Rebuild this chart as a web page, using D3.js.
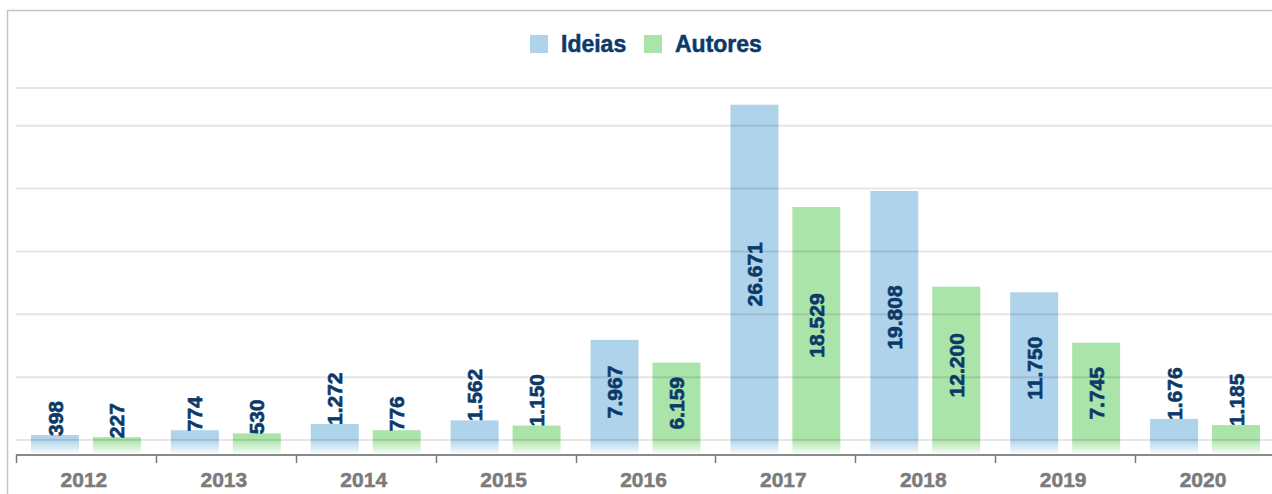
<!DOCTYPE html>
<html>
<head>
<meta charset="utf-8">
<script src="https://cdn.jsdelivr.net/npm/d3@7"></script>
<style>
  html, body { margin: 0; padding: 0; background: #fff; }
  svg { display: block; }
</style>
</head>
<body>
<svg id="chart" width="1272" height="494"></svg>
<script>
// Yearly counts of ideas and authors
const categories = ["2012", "2013", "2014", "2015", "2016", "2017", "2018", "2019", "2020"];
const seriesNames = ["Ideias", "Autores"];
const ideias  = [398, 774, 1272, 1562, 7967, 26671, 19808, 11750, 1676];
const autores = [227, 530, 776, 1150, 6159, 18529, 12200, 7745, 1185];
const seriesColors = ["#aed3ea", "#aae4a8"];

const W = 1272, H = 494;
const svg = d3.select("#chart");

const ptLocale = d3.formatLocale({ decimal: ",", thousands: ".", grouping: [3], currency: ["", ""] });
const fmt = ptLocale.format(",d");

const plot = { left: 16, right: 1275, top: 88, zero: 440, axis: 455 };

const x = d3.scaleBand().domain(categories).range([plot.left, plot.right]).padding(0);
const xs = d3.scaleBand().domain(seriesNames).range([0, x.bandwidth()])
  .paddingInner(0.2258).paddingOuter(0.242);
const y = d3.scaleLinear().domain([0, 28000]).range([plot.zero, plot.top]);

const rows = categories.map((c, i) => ({ cat: c, values: [ideias[i], autores[i]] }));

// outer frame
svg.append("path")
  .attr("d", `M7.5,${H} V10.5 H${W}`)
  .attr("fill", "none").attr("stroke", "#c4c4c4").attr("stroke-width", 1.5);

// fading gradients for the strip under the zero line
const defs = svg.append("defs");
seriesColors.forEach((c, i) => {
  const g = defs.append("linearGradient").attr("id", "fade" + i)
    .attr("x1", 0).attr("y1", 0).attr("x2", 0).attr("y2", 1);
  g.append("stop").attr("offset", "0%").attr("stop-color", c).attr("stop-opacity", 0.95);
  g.append("stop").attr("offset", "100%").attr("stop-color", c).attr("stop-opacity", 0.15);
});

// bars
const groups = svg.append("g").selectAll("g").data(rows).join("g")
  .attr("transform", d => `translate(${x(d.cat)},0)`);

groups.selectAll("rect.bar").data(d => d.values.map((v, i) => ({ v, i })))
  .join("rect").attr("class", "bar")
  .attr("x", d => xs(seriesNames[d.i]))
  .attr("width", xs.bandwidth())
  .attr("y", d => y(d.v))
  .attr("height", d => y(0) - y(d.v))
  .attr("fill", d => seriesColors[d.i]);

groups.selectAll("rect.fade").data(d => d.values.map((v, i) => ({ v, i })))
  .join("rect").attr("class", "fade")
  .attr("x", d => xs(seriesNames[d.i]))
  .attr("width", xs.bandwidth())
  .attr("y", y(0))
  .attr("height", plot.axis - 2 - y(0))
  .attr("fill", d => `url(#fade${d.i})`);

// grid lines, drawn over the bars
const gridVals = y.ticks(6).concat([y.domain()[1]]);
svg.append("g").selectAll("line").data(gridVals).join("line")
  .attr("x1", plot.left).attr("x2", W)
  .attr("y1", d => y(d)).attr("y2", d => y(d))
  .attr("stroke", "rgba(0,0,0,0.10)").attr("stroke-width", 2);

// x axis
const xAxis = svg.append("g").attr("transform", `translate(0,${plot.axis})`);
xAxis.append("line").attr("x1", plot.left).attr("x2", W)
  .attr("stroke", "#8a8a8a").attr("stroke-width", 2);
xAxis.selectAll("line.tick").data(categories).join("line").attr("class", "tick")
  .attr("x1", d => Math.round(x(d)) + 0.5).attr("x2", d => Math.round(x(d)) + 0.5)
  .attr("y1", 0).attr("y2", 8)
  .attr("stroke", "#777").attr("stroke-width", 1.5);
xAxis.selectAll("text").data(categories).join("text")
  .attr("x", d => x(d) + x.bandwidth() / 2 - 2)
  .attr("y", 32)
  .attr("text-anchor", "middle")
  .attr("font-family", "Liberation Sans, Arial, sans-serif")
  .attr("font-weight", "bold").attr("font-size", 21)
  .attr("fill", "#7b7b7b")
  .attr("stroke", "#7b7b7b").attr("stroke-width", 0.5)
  .text(d => d);

// value labels
const labels = groups.selectAll("text").data(d => d.values.map((v, i) => ({ v, i })))
  .join("text")
  .attr("font-family", "Liberation Sans, Arial, sans-serif")
  .attr("font-weight", "bold").attr("font-size", 21)
  .attr("fill", "#0c3a68")
  .attr("stroke", "#0c3a68").attr("stroke-width", 0.6)
  .attr("dy", "0.36em")
  .text(d => fmt(d.v));

labels.each(function (d) {
  const len = this.getComputedTextLength();
  const cx = xs(seriesNames[d.i]) + xs.bandwidth() / 2;
  const h = y(0) - y(d.v);
  const t = d3.select(this);
  if (h > len + 10) {
    t.attr("text-anchor", "middle")
      .attr("transform", `translate(${cx},${(y(d.v) + y(0)) / 2 + 2}) rotate(-90)`);
  } else {
    t.attr("text-anchor", "start")
      .attr("transform", `translate(${cx},${y(d.v) + 1}) rotate(-90)`);
  }
});

// legend
const legend = svg.append("g").attr("transform", "translate(530,35)");
const lx = [0, 114];
seriesNames.forEach((name, i) => {
  const g = legend.append("g").attr("transform", `translate(${lx[i]},0)`);
  g.append("rect").attr("width", 18).attr("height", 18).attr("fill", seriesColors[i]);
  g.append("text").attr("x", 31).attr("y", 17)
    .attr("font-family", "Liberation Sans, Arial, sans-serif")
    .attr("font-weight", "bold").attr("font-size", 23)
    .attr("fill", "#0c3a68")
    .attr("stroke", "#0c3a68").attr("stroke-width", 0.5)
    .text(name);
});
</script>
</body>
</html>
